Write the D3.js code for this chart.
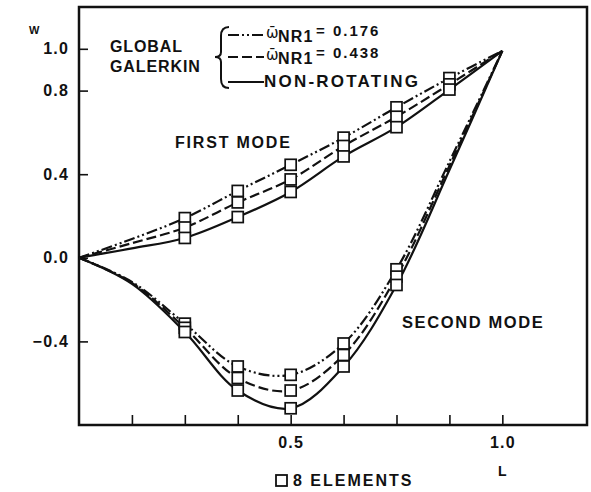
<!DOCTYPE html>
<html>
<head>
<meta charset="utf-8">
<script src="https://cdn.jsdelivr.net/npm/d3@7"></script>
<style>
  body { margin: 0; background: #fff; }
  text { font-family: 'Liberation Sans', Arial, sans-serif; font-weight: bold; fill: #111; }
</style>
</head>
<body>
<svg id="chart"></svg>
<script>
// spanwise station L and deflection W
const stations = [0, 0.125, 0.25, 0.375, 0.5, 0.625, 0.75, 0.875, 1.0];
const firstW176 = [0, 0.09, 0.19, 0.32, 0.445, 0.575, 0.72, 0.86, 0.99];
const firstW438 = [0, 0.07, 0.145, 0.265, 0.375, 0.535, 0.675, 0.83, 0.99];
const firstNonRot = [0, 0.045, 0.095, 0.195, 0.315, 0.485, 0.625, 0.805, 0.99];
const secondW176 = [0, -0.115, -0.315, -0.52, -0.56, -0.41, -0.055, 0.46, 0.99];
const secondW438 = [0, -0.12, -0.335, -0.575, -0.635, -0.465, -0.09, 0.44, 0.99];
const secondNonRot = [0, -0.125, -0.355, -0.635, -0.72, -0.52, -0.13, 0.42, 0.99];
const firstElementNodes = [0.25, 0.375, 0.5, 0.625, 0.75, 0.875];
const secondElementNodes = [0.25, 0.375, 0.5, 0.625, 0.75];
const yTicks = [1.0, 0.8, 0.4, 0.0, -0.4];
const xTicks = [0.125, 0.25, 0.375, 0.5, 0.625, 0.75, 0.875, 1.0];
const xLabelled = [0.5, 1.0];
const legendLabels = ['= 0.176', '= 0.438', 'NON-ROTATING'];

const dashDot = '11,3,2,3,2,3';
const dashed = '10,4';

const svg = d3.select('#chart').attr('width', 591).attr('height', 492);

const x = d3.scaleLinear().domain([0, 1.2]).range([79, 587]);
const y = d3.scaleLinear().domain([-0.8, 1.2]).range([425, 7]);

const series = [
  { values: firstW176, nodes: firstElementNodes, dash: dashDot },
  { values: firstW438, nodes: firstElementNodes, dash: dashed },
  { values: firstNonRot, nodes: firstElementNodes, dash: null },
  { values: secondW176, nodes: secondElementNodes, dash: dashDot },
  { values: secondW438, nodes: secondElementNodes, dash: dashed },
  { values: secondNonRot, nodes: secondElementNodes, dash: null },
];

const line = d3.line()
  .x(d => x(d[0]))
  .y(d => y(d[1]))
  .curve(d3.curveCatmullRom.alpha(0.5));

// axes, ticks point into the plot
const yAxis = svg.append('g')
  .attr('transform', `translate(${x(0)},0)`)
  .call(d3.axisLeft(y).tickValues(yTicks).tickSizeInner(-9).tickSizeOuter(0)
    .tickPadding(10).tickFormat(d3.format('.1f')));
yAxis.select('.domain').remove();
yAxis.selectAll('line').attr('stroke', '#111').attr('stroke-width', 1.6);
yAxis.selectAll('text')
  .attr('font-size', 16)
  .attr('letter-spacing', 1.2)
  .attr('fill', '#111');

const xAxis = svg.append('g')
  .attr('transform', `translate(0,${y(-0.8)})`)
  .call(d3.axisBottom(x).tickValues(xTicks).tickSizeInner(-10).tickSizeOuter(0)
    .tickPadding(12).tickFormat(d => (xLabelled.includes(d) ? d3.format('.1f')(d) : '')));
xAxis.select('.domain').remove();
xAxis.selectAll('line').attr('stroke', '#111').attr('stroke-width', 1.6);
xAxis.selectAll('text')
  .attr('font-size', 16)
  .attr('letter-spacing', 1.2)
  .attr('fill', '#111');

svg.append('rect')
  .attr('x', x(0))
  .attr('y', y(1.2))
  .attr('width', x(1.2) - x(0))
  .attr('height', y(-0.8) - y(1.2))
  .attr('fill', 'none')
  .attr('stroke', '#111')
  .attr('stroke-width', 2.5);

svg.append('text').attr('x', 29).attr('y', 34).attr('font-size', 11).text('W');
svg.append('text').attr('x', x(1.0)).attr('y', 476).attr('font-size', 14)
  .attr('text-anchor', 'middle').text('L');

// mode shapes
svg.selectAll('.mode')
  .data(series)
  .enter().append('path')
  .attr('class', 'mode')
  .attr('d', d => line(stations.map((s, i) => [s, d.values[i]])))
  .attr('fill', 'none')
  .attr('stroke', '#111')
  .attr('stroke-width', 2.2)
  .attr('stroke-dasharray', d => d.dash);

// element node markers
const markers = series.flatMap(d => d.nodes.map(n => [n, d.values[stations.indexOf(n)]]));
const box = 11;
svg.selectAll('.node')
  .data(markers)
  .enter().append('rect')
  .attr('class', 'node')
  .attr('x', d => x(d[0]) - box / 2)
  .attr('y', d => y(d[1]) - box / 2)
  .attr('width', box)
  .attr('height', box)
  .attr('fill', '#fff')
  .attr('stroke', '#111')
  .attr('stroke-width', 1.7);

svg.append('text').attr('x', 175).attr('y', 148).attr('font-size', 16)
  .attr('letter-spacing', 1.8).text('FIRST MODE');
svg.append('text').attr('x', 402).attr('y', 328).attr('font-size', 16.5)
  .attr('letter-spacing', 1.6).text('SECOND MODE');

// legend
svg.append('text').attr('x', 110).attr('y', 52).attr('font-size', 16)
  .attr('letter-spacing', 0.9).text('GLOBAL');
svg.append('text').attr('x', 110).attr('y', 72).attr('font-size', 16)
  .attr('letter-spacing', 0.9).text('GALERKIN');

svg.append('path')
  .attr('d', 'M229,27 Q221,27 221,36 L221,52 Q221,57 215,57 Q221,57 221,62 L221,79 Q221,88 229,88')
  .attr('fill', 'none')
  .attr('stroke', '#111')
  .attr('stroke-width', 2);

const legendRows = [
  { dash: dashDot, y: 35 },
  { dash: dashed, y: 57 },
  { dash: null, y: 82 },
];
svg.selectAll('.legend-line')
  .data(legendRows)
  .enter().append('line')
  .attr('class', 'legend-line')
  .attr('x1', 228).attr('x2', 264)
  .attr('y1', d => d.y).attr('y2', d => d.y)
  .attr('stroke', '#111')
  .attr('stroke-width', 2.2)
  .attr('stroke-dasharray', d => d.dash);

[0, 1].forEach(i => {
  const base = 38 + i * 22;
  const g = svg.append('g');
  g.append('text').attr('x', 266).attr('y', base).attr('font-size', 15)
    .style('font-family', 'DejaVu Sans').style('font-weight', 'normal')
    .text('\u03C9\u0304');
  g.append('text').attr('x', 278).attr('y', base + 4).attr('font-size', 16)
    .attr('letter-spacing', 1.2).text('NR1');
  g.append('text').attr('x', 316).attr('y', base - 2).attr('font-size', 15)
    .attr('letter-spacing', 2).text(legendLabels[i]);
});
svg.append('text').attr('x', 264).attr('y', 87).attr('font-size', 17)
  .attr('letter-spacing', 2.2).text(legendLabels[2]);

// element count key
svg.append('rect').attr('x', 276).attr('y', 475).attr('width', box).attr('height', box)
  .attr('fill', '#fff').attr('stroke', '#111').attr('stroke-width', 1.8);
svg.append('text').attr('x', 293).attr('y', 486).attr('font-size', 16)
  .attr('letter-spacing', 2).text('8 ELEMENTS');
</script>
</body>
</html>
